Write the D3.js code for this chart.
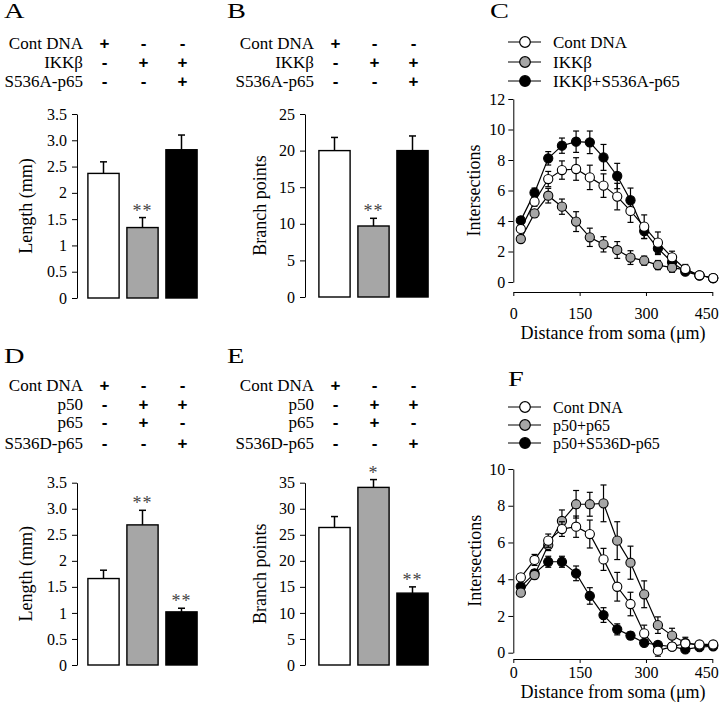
<!DOCTYPE html>
<html><head><meta charset="utf-8">
<script src="https://cdn.jsdelivr.net/npm/d3@7"></script>
<style>
body{margin:0;background:#fff;}
svg text{font-family:"Liberation Serif","Times New Roman",serif;fill:#000;}
</style></head><body>
<svg id="chart" width="720" height="710"></svg>
<script>
// ---------- DATA ----------
const groups = ["g1", "g2", "g3"];
const barFills = ["#ffffff", "#a6a6a6", "#000000"];

const rowsTop = ["Cont DNA", "IKKβ", "S536A-p65"];
const signsTop = [["+", "-", "-"], ["-", "+", "+"], ["-", "-", "+"]];
const rowsBottom = ["Cont DNA", "p50", "p65", "S536D-p65"];
const signsBottom = [["+", "-", "-"], ["-", "+", "+"], ["-", "+", "-"], ["-", "-", "+"]];

const lengthTicks = [0, 0.5, 1, 1.5, 2, 2.5, 3, 3.5];
const lengthTickLabels = ["0", "0.5", "1", "1.5", "2", "2.5", "3.0", "3.5"];
const branchTicksB = [0, 5, 10, 15, 20, 25];
const branchTicksE = [0, 5, 10, 15, 20, 25, 30, 35];

const lengthA = [2.37, 1.34, 2.82];
const lengthAErr = [0.22, 0.19, 0.28];
const starsA = ["", "**", ""];
const branchB = [20.0, 9.7, 20.0];
const branchBErr = [1.8, 1.05, 2.0];
const starsB = ["", "**", ""];
const lengthD = [1.66, 2.69, 1.02];
const lengthDErr = [0.16, 0.28, 0.07];
const starsD = ["", "**", "**"];
const branchE = [26.4, 34.1, 13.8];
const branchEErr = [2.1, 1.5, 1.2];
const starsE = ["", "*", "**"];

const distance = [17, 48, 79, 110, 142, 173, 204, 235, 265, 296, 327, 359, 389, 421, 452];
const distTicks = [0, 150, 300, 450];
const intersTicksC = [0, 2, 4, 6, 8, 10, 12];
const intersTicksF = [0, 2, 4, 6, 8, 10];

const legendC = ["Cont DNA", "IKKβ", "IKKβ+S536A-p65"];
const contC = [3.48, 5.27, 6.75, 7.34, 7.41, 6.86, 6.32, 5.6, 4.66, 3.63, 2.58, 1.62, 0.85, 0.44, 0.26];
const contCErr = [0.2, 0.3, 0.5, 0.6, 0.74, 0.8, 0.77, 0.87, 0.75, 0.77, 0.7, 0.4, 0.3, 0.15, 0.1];
const ikkC = [2.82, 4.5, 5.66, 4.94, 3.96, 2.93, 2.47, 2.1, 1.6, 1.4, 1.11, 0.94, 0.79, 0.44, 0.26];
const ikkCErr = [0.2, 0.25, 0.48, 0.5, 0.65, 0.6, 0.5, 0.55, 0.45, 0.3, 0.3, 0.3, 0.2, 0.1, 0.1];
const rescueC = [4.04, 5.86, 8.11, 8.94, 9.2, 9.16, 8.17, 6.95, 5.36, 3.34, 2.2, 1.3, 0.68, 0.44, 0.26];
const rescueCErr = [0.25, 0.3, 0.44, 0.5, 0.7, 0.74, 0.85, 0.83, 0.8, 0.5, 0.4, 0.3, 0.2, 0.1, 0.1];

const legendF = ["Cont DNA", "p50+p65", "p50+S536D-p65"];
const contF = [4.1, 5.05, 6.1, 6.73, 6.86, 6.46, 5.08, 3.59, 2.65, 1.05, 0.11, 0.33, 0.5, 0.45, 0.45];
const contFErr = [0.2, 0.3, 0.36, 0.4, 0.58, 0.76, 0.6, 0.78, 0.64, 0.45, 0.3, 0.2, 0.2, 0.15, 0.15];
const p65F = [3.27, 4.23, 5.86, 7.17, 8.08, 8.08, 8.13, 6.1, 4.9, 3.18, 1.5, 0.93, 0.54, 0.4, 0.4];
const p65FErr = [0.15, 0.2, 0.3, 0.6, 0.75, 0.65, 1.0, 1.03, 0.9, 0.73, 0.45, 0.4, 0.3, 0.2, 0.15];
const s536dF = [3.6, 4.32, 4.95, 4.95, 4.32, 3.09, 2.05, 1.27, 0.93, 0.54, 0.42, 0.33, 0.18, 0.3, 0.35];
const s536dFErr = [0.15, 0.2, 0.3, 0.3, 0.4, 0.45, 0.4, 0.3, 0.2, 0.15, 0.15, 0.1, 0.1, 0.1, 0.1];

// ---------- DRAWING ----------
const SERIF = '"Liberation Serif","Times New Roman",serif';
const SANS = '"Liberation Sans",Arial,sans-serif';
const svg = d3.select("#chart");

function panelLetter(t, x, y) {
  svg.append("text").attr("transform", `translate(${x},${y}) scale(1.35,1)`)
    .attr("font-size", 21).text(t);
}

function styleAxis(ax, fs) {
  ax.attr("font-family", SERIF).attr("font-size", fs);
  ax.selectAll("text").attr("fill", "#000");
  ax.selectAll("line,path").attr("stroke", "#000").attr("stroke-width", 1);
}

function barPanel(o) {
  const g = svg.append("g");
  const x = d3.scaleBand().domain(groups).range(o.xRange).paddingInner(0.2).paddingOuter(0.1);
  const y = d3.scaleLinear().domain(o.yDomain).range(o.yRange);
  const cx = grp => x(grp) + x.bandwidth() / 2;

  o.rows.forEach((lab, i) => {
    g.append("text").attr("x", o.headRight).attr("y", o.rowY[i])
      .attr("text-anchor", "end").attr("font-size", 17).text(lab);
    groups.forEach((grp, j) => {
      g.append("text").attr("x", cx(grp) + 1).attr("y", o.rowY[i])
        .attr("text-anchor", "middle").attr("font-size", 17)
        .attr("font-weight", "bold").style("font-family", SANS)
        .text(o.signs[i][j]);
    });
  });

  const ax = g.append("g").attr("transform", `translate(${o.axisX},0)`)
    .call(d3.axisLeft(y).tickValues(o.ticks).tickFormat(o.fmt)
      .tickSize(5).tickSizeOuter(0).tickPadding(5));
  styleAxis(ax, 16);

  g.append("text").attr("transform", `translate(${o.titleX},${(o.yRange[0] + o.yRange[1]) / 2}) rotate(-90)`)
    .attr("text-anchor", "middle").attr("font-size", 18).text(o.title);

  groups.forEach((grp, i) => {
    const v = o.values[i], e = o.errs[i];
    g.append("line").attr("x1", cx(grp)).attr("x2", cx(grp))
      .attr("y1", y(v)).attr("y2", y(v + e)).attr("stroke", "#000").attr("stroke-width", 1.5);
    g.append("line").attr("x1", cx(grp) - 3.5).attr("x2", cx(grp) + 3.5)
      .attr("y1", y(v + e)).attr("y2", y(v + e)).attr("stroke", "#000").attr("stroke-width", 1.5);
    if (o.stars[i]) {
      g.append("text").attr("x", cx(grp)).attr("y", y(v + e) - 1)
        .attr("text-anchor", "middle").attr("font-size", 18)
        .attr("letter-spacing", 1).style("fill", "#444").text(o.stars[i]);
    }
  });
  g.selectAll("rect.bar").data(o.values).join("rect").attr("class", "bar")
    .attr("x", (d, i) => x(groups[i])).attr("y", d => y(d))
    .attr("width", x.bandwidth()).attr("height", d => y(0) - y(d))
    .attr("fill", (d, i) => barFills[i]).attr("stroke", "#000").attr("stroke-width", 1.4);
}

function linePanel(o) {
  const g = svg.append("g");
  const x = d3.scaleLinear().domain([0, 450]).range([513.3, 712.3]);
  const y = d3.scaleLinear().domain([0, o.yMax]).range(o.yRange);

  const ay = g.append("g").attr("transform", "translate(513.3,0)")
    .call(d3.axisLeft(y).tickValues(o.yTicks).tickSize(5).tickSizeOuter(0).tickPadding(3));
  styleAxis(ay, 16);
  const axx = g.append("g").attr("transform", `translate(0,${o.xAxisY})`)
    .call(d3.axisBottom(x).tickValues(distTicks).tickSize(4).tickSizeOuter(0).tickPadding(o.xPad));
  styleAxis(axx, 16);
  axx.selectAll(".tick text").filter(d => d === 450).attr("text-anchor", "end").attr("dx", 6);

  g.append("text").attr("transform", `translate(${o.yTitleX},${(o.yRange[0] + o.yRange[1]) / 2}) rotate(-90)`)
    .attr("text-anchor", "middle").attr("font-size", 18).text("Intersections");
  g.append("text").attr("x", 613).attr("y", o.xTitleY).attr("text-anchor", "middle")
    .attr("font-size", 18).text("Distance from soma (μm)");

  // legend
  o.legend.forEach((lab, i) => {
    const ly = o.legendY[i];
    g.append("line").attr("x1", 508).attr("x2", 541).attr("y1", ly - 6).attr("y2", ly - 6)
      .attr("stroke", "#000").attr("stroke-width", 1);
    g.append("circle").attr("cx", 525).attr("cy", ly - 6).attr("r", 5.3)
      .attr("fill", o.fills[i]).attr("stroke", "#000").attr("stroke-width", 1.2);
    g.append("text").attr("x", 553).attr("y", ly).attr("font-size", o.legendFont).text(lab);
  });

  const line = d3.line().x((d, i) => x(distance[i])).y(d => y(d));
  o.order.forEach(k => {
    const vals = o.series[k], errs = o.errors[k];
    const sg = g.append("g");
    sg.append("path").datum(vals).attr("d", line).attr("fill", "none")
      .attr("stroke", "#000").attr("stroke-width", 1.2);
    vals.forEach((v, i) => {
      const px = x(distance[i]);
      sg.append("line").attr("x1", px).attr("x2", px).attr("y1", y(v - errs[i])).attr("y2", y(v + errs[i]))
        .attr("stroke", "#000").attr("stroke-width", 1.2);
      [v - errs[i], v + errs[i]].forEach(t => sg.append("line")
        .attr("x1", px - 3).attr("x2", px + 3).attr("y1", y(t)).attr("y2", y(t))
        .attr("stroke", "#000").attr("stroke-width", 1.2));
    });
    sg.selectAll("circle").data(vals).join("circle")
      .attr("cx", (d, i) => x(distance[i])).attr("cy", d => y(d)).attr("r", 4.6)
      .attr("fill", o.fills[k]).attr("stroke", "#000").attr("stroke-width", 1.1);
  });
}

panelLetter("A", 4, 18);
panelLetter("B", 227, 18);
panelLetter("C", 490, 18);
panelLetter("D", 4, 363);
panelLetter("E", 227, 363);
panelLetter("F", 508, 386);

barPanel({ rows: rowsTop, signs: signsTop, rowY: [49, 68, 87], headRight: 83,
  xRange: [84, 201], yDomain: [0, 3.5], yRange: [298, 114], axisX: 77,
  ticks: lengthTicks, fmt: (d, i) => lengthTickLabels[i],
  values: lengthA, errs: lengthAErr, stars: starsA, title: "Length (mm)", titleX: 32 });
barPanel({ rows: rowsTop, signs: signsTop, rowY: [49, 68, 87], headRight: 314,
  xRange: [315, 432], yDomain: [0, 25], yRange: [297, 114], axisX: 305,
  ticks: branchTicksB, fmt: d => d,
  values: branchB, errs: branchBErr, stars: starsB, title: "Branch points", titleX: 266 });
barPanel({ rows: rowsBottom, signs: signsBottom, rowY: [391, 410, 428, 449], headRight: 83,
  xRange: [84, 201], yDomain: [0, 3.5], yRange: [665, 482.7], axisX: 77,
  ticks: lengthTicks, fmt: (d, i) => lengthTickLabels[i],
  values: lengthD, errs: lengthDErr, stars: starsD, title: "Length (mm)", titleX: 32 });
barPanel({ rows: rowsBottom, signs: signsBottom, rowY: [391, 410, 428, 449], headRight: 314,
  xRange: [315, 432], yDomain: [0, 35], yRange: [665, 482.7], axisX: 305,
  ticks: branchTicksE, fmt: d => d,
  values: branchE, errs: branchEErr, stars: starsE, title: "Branch points", titleX: 266 });

linePanel({ yMax: 12, yRange: [282, 99], yTicks: intersTicksC, xAxisY: 292, xPad: 12,
  yTitleX: 480, xTitleY: 339, legend: legendC, legendY: [48, 68, 87], legendFont: 17,
  fills: ["#ffffff", "#a6a6a6", "#000000"],
  series: [contC, ikkC, rescueC], errors: [contCErr, ikkCErr, rescueCErr], order: [2, 1, 0] });
linePanel({ yMax: 10, yRange: [652.7, 469], yTicks: intersTicksF, xAxisY: 659, xPad: 4,
  yTitleX: 481, xTitleY: 698, legend: legendF, legendY: [413, 431, 449], legendFont: 16,
  fills: ["#ffffff", "#a6a6a6", "#000000"],
  series: [contF, p65F, s536dF], errors: [contFErr, p65FErr, s536dFErr], order: [2, 1, 0] });
</script>
</body></html>
